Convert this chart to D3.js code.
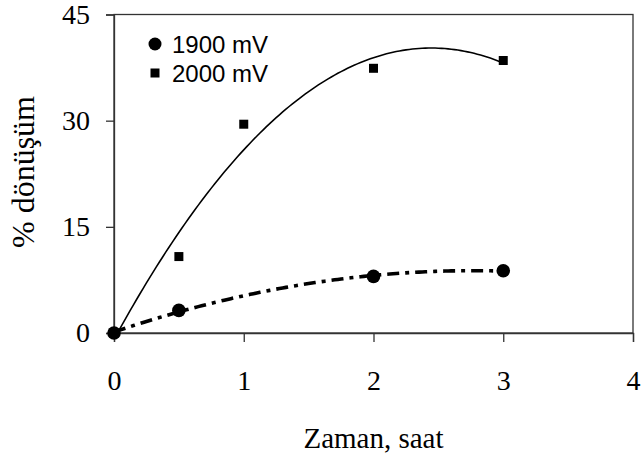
<!DOCTYPE html>
<html><head><meta charset="utf-8">
<script src="https://cdn.jsdelivr.net/npm/d3@7"></script>
<style>body{margin:0;background:#fff}svg{display:block}</style>
</head><body>
<script>
const xTicks = [0, 1, 2, 3, 4];
const yTicks = [0, 15, 30, 45];
const seriesNames = ["1900 mV", "2000 mV"];
const times1900 = [0, 0.5, 2, 3];
const values1900 = [0, 3.2, 8.0, 8.8];
const times2000 = [0, 0.5, 1, 2, 3];
const values2000 = [0, 10.8, 29.5, 37.4, 38.5];

const W = 643, H = 459;
const m = {l: 114, r: 10, t: 14.5, b: 126};
const svg = d3.select("body").append("svg").attr("width", W).attr("height", H);
const x = d3.scaleLinear().domain([0, 4]).range([m.l, W - m.r]);
const y = d3.scaleLinear().domain([0, 45]).range([H - m.b, m.t]);

// least squares polynomial fit (Excel-style trendline)
function polyfit(xs, ys, deg) {
  const n = deg + 1;
  const A = Array.from({length: n}, () => new Array(n + 1).fill(0));
  for (let i = 0; i < n; i++) {
    for (let j = 0; j < n; j++) A[i][j] = d3.sum(xs, v => Math.pow(v, i + j));
    A[i][n] = d3.sum(xs, (v, k) => Math.pow(v, i) * ys[k]);
  }
  for (let c = 0; c < n; c++) {
    let p = c;
    for (let r = c + 1; r < n; r++) if (Math.abs(A[r][c]) > Math.abs(A[p][c])) p = r;
    [A[c], A[p]] = [A[p], A[c]];
    for (let r = 0; r < n; r++) {
      if (r === c) continue;
      const f = A[r][c] / A[c][c];
      for (let k = c; k <= n; k++) A[r][k] -= f * A[c][k];
    }
  }
  return A.map((row, i) => row[n] / row[i]);
}
function trend(xs, ys) {
  const co = polyfit(xs, ys, 2);
  const x0 = d3.min(xs), x1 = d3.max(xs);
  return d3.range(0, 121).map(i => {
    const t = x0 + (x1 - x0) * i / 120;
    return [t, co[0] + co[1] * t + co[2] * t * t];
  });
}

svg.append("clipPath").attr("id", "clip").append("rect")
  .attr("x", x(0)).attr("y", y(45)).attr("width", x(4) - x(0)).attr("height", y(0) - y(45));

const line = d3.line().x(d => x(d[0])).y(d => y(d[1]));
const g = svg.append("g").attr("clip-path", "url(#clip)");
g.append("path").attr("d", line(trend(times2000, values2000)))
  .attr("fill", "none").attr("stroke", "#000").attr("stroke-width", 1.6);
g.append("path").attr("d", line(trend(times1900, values1900)))
  .attr("fill", "none").attr("stroke", "#000").attr("stroke-width", 3.6)
  .attr("stroke-dasharray", "12,6,4,6");

// frame
const axCol = "#333";
svg.append("rect").attr("x", x(0)).attr("y", y(45)).attr("width", x(4) - x(0)).attr("height", y(0) - y(45))
  .attr("fill", "none").attr("stroke", axCol).attr("stroke-width", 1.3);

const xa = svg.append("g").attr("transform", `translate(0,${y(0)})`)
  .call(d3.axisBottom(x).tickValues(xTicks).tickSize(9).tickPadding(28).tickFormat(d3.format("d")));
const ya = svg.append("g").attr("transform", `translate(${x(0)},0)`)
  .call(d3.axisLeft(y).tickValues(yTicks).tickSize(8).tickPadding(16).tickFormat(d3.format("d")));
[xa, ya].forEach(a => {
  a.select(".domain").attr("stroke", axCol).attr("stroke-width", 1.3);
  a.selectAll(".tick line").attr("stroke", axCol).attr("stroke-width", 1.3);
  a.selectAll(".tick text").attr("fill", "#000").style("font-family", "'Liberation Serif','Times New Roman',serif").style("font-size", "28px");
});

// markers
svg.append("g").selectAll("circle").data(times1900.map((t, i) => [t, values1900[i]])).join("circle")
  .attr("cx", d => x(d[0])).attr("cy", d => y(d[1])).attr("r", 6.8).attr("fill", "#000");
svg.append("g").selectAll("rect").data(times2000.map((t, i) => [t, values2000[i]])).join("rect")
  .attr("x", d => x(d[0]) - 4.5).attr("y", d => y(d[1]) - 4.5).attr("width", 9).attr("height", 9).attr("fill", "#000");

// axis titles
svg.append("text").attr("x", (x(0) + x(4)) / 2).attr("y", 448).attr("text-anchor", "middle")
  .style("font-family", "'Liberation Serif','Times New Roman',serif").style("font-size", "29px").text("Zaman, saat");
svg.append("text").attr("transform", `translate(34,172) rotate(-90)`).attr("text-anchor", "middle")
  .style("font-family", "'Liberation Serif','Times New Roman',serif").style("font-size", "32px").text("% dönüşüm");

// legend
const lg = svg.append("g").style("font-family", "'Liberation Sans',Arial,sans-serif").style("font-size", "24px");
lg.append("circle").attr("cx", 155).attr("cy", 44).attr("r", 6.5).attr("fill", "#000");
lg.append("rect").attr("x", 150.5).attr("y", 68.5).attr("width", 9).attr("height", 9).attr("fill", "#000");
lg.selectAll("text").data(seriesNames).join("text")
  .attr("x", 172).attr("y", (d, i) => 44 + i * 29).attr("dy", "0.36em").text(d => d);
</script>
</body></html>
